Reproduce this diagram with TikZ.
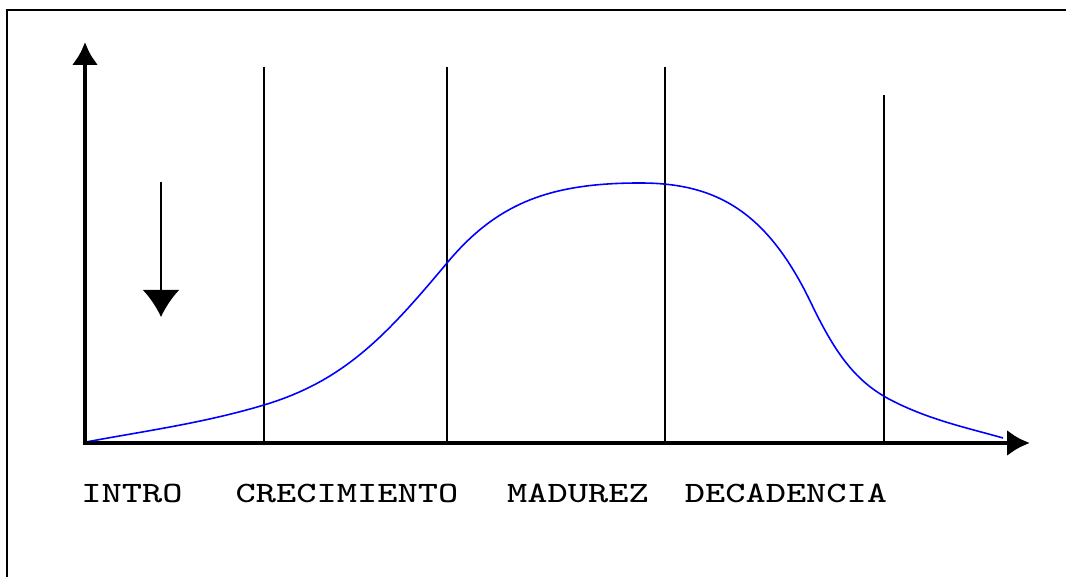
\documentclass[tikz,border=0pt]{standalone}
\usepackage{graphicx}
\usetikzlibrary{arrows.meta}

\tikzstyle{axis} = [line width = 1.4pt, {Latex[length = 6.5pt, width = 7.5pt]}-{Latex[length = 6.5pt, width = 7.5pt]}]
\tikzstyle{divider} = [line width = 0.55pt]
\tikzstyle{curve} = [blue, line width = 0.45pt]
\tikzstyle{phase} = [anchor = base, inner sep = 0pt, font = \ttfamily\fontsize{8.4}{10}\selectfont]
\newcommand{\wide}[1]{\scalebox{1.29}[1]{#1}}

\begin{document}
\begin{tikzpicture}[x = 0.01cm, y = -0.01cm]
		\useasboundingbox (0, 0) rectangle (1066, 577);
		\draw [line width = 0.6pt] (7, 577) -- (7, 10) -- (1066, 10);

		\coordinate (o) at (85, 443);
		\coordinate (ytop) at (85, 42);
		\coordinate (xend) at (1030, 443);
		\coordinate (d1) at (264, 67);
		\coordinate (d2) at (447, 67);
		\coordinate (d3) at (665, 67);
		\coordinate (d4) at (884, 95);
		\coordinate (dropstart) at (161, 182);
		\coordinate (dropend) at (161, 317);

		\node [phase] at (132, 503) (intro) {\wide{INTRO}};
		\node [phase] at (347, 503) (crec) {\wide{CRECIMIENTO}};
		\node [phase] at (578, 503) (mad) {\wide{MADUREZ}};
		\node [phase] at (786, 503) (dec) {\wide{DECADENCIA}};

		\draw [divider] (d1) -- (d1 |- o);
		\draw [divider] (d2) -- (d2 |- o);
		\draw [divider] (d3) -- (d3 |- o);
		\draw [divider] (d4) -- (d4 |- o);

		% product life cycle curve
		\draw [curve] (86, 442) .. controls (145, 431) and (204, 423) .. (264, 405)
			.. controls (344, 381) and (386, 336) .. (447, 263)
			.. controls (497, 203) and (550, 183) .. (640, 183)
			.. controls (715, 183) and (767, 210) .. (812, 305)
			.. controls (837, 357) and (857, 381) .. (887, 398)
			.. controls (926, 419) and (964, 427) .. (1003, 438);

		\draw [axis] (ytop) -- (o) -- (xend);
		\draw [-{Latex[length = 7.7pt, width = 10.5pt]}, line width = 0.6pt] (dropstart) -- (dropend);
\end{tikzpicture}
\end{document}
